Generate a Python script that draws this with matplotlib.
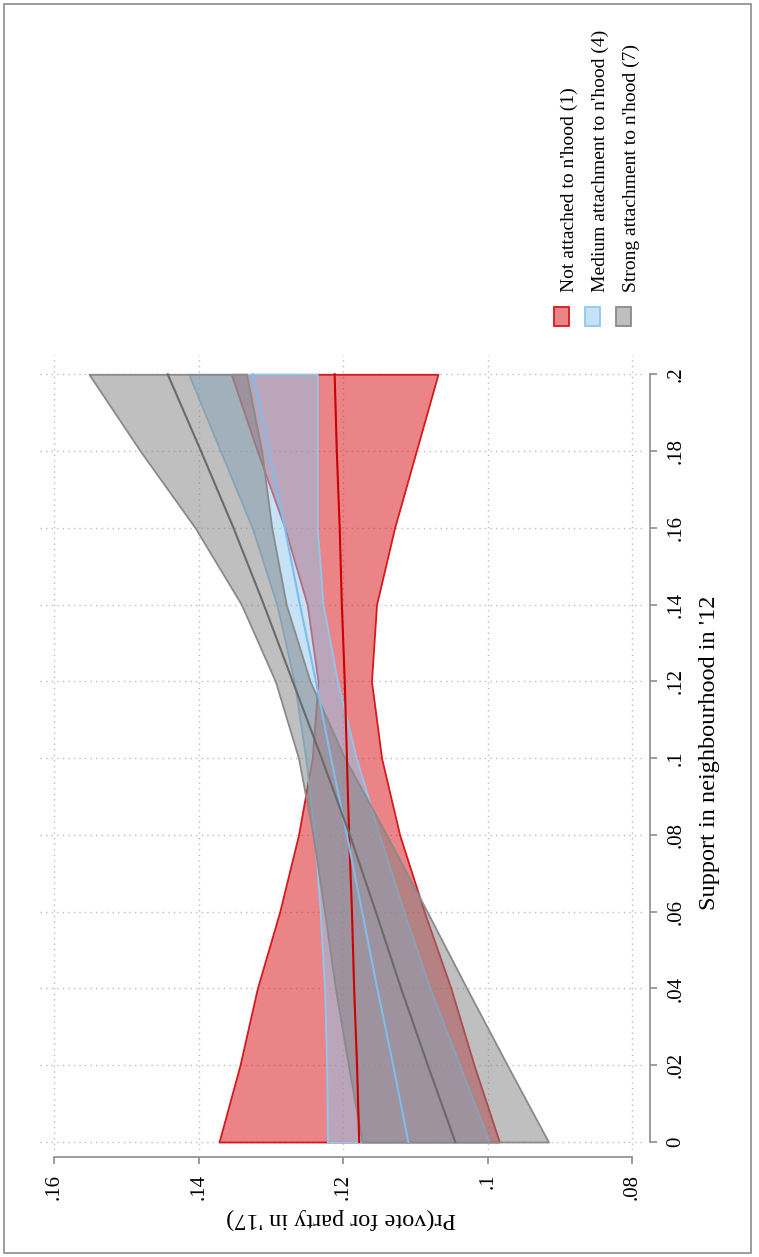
import matplotlib
matplotlib.use("Agg")
import matplotlib.pyplot as plt
from matplotlib.patches import Rectangle

# ---------------- data ----------------
support = [0.00, 0.02, 0.04, 0.06, 0.08, 0.10, 0.12, 0.14, 0.16, 0.18, 0.20]

red_mid = [0.1178, 0.1181, 0.1185, 0.1188, 0.1192, 0.1195, 0.1198, 0.1202, 0.1205, 0.1209, 0.1212]
red_lo  = [0.0984, 0.1019, 0.1051, 0.1088, 0.1122, 0.1147, 0.1161, 0.1154, 0.1129, 0.1099, 0.1069]
red_hi  = [0.1372, 0.1343, 0.1319, 0.1288, 0.1262, 0.1243, 0.1235, 0.1250, 0.1281, 0.1319, 0.1355]

blue_mid = [0.1110, 0.1131, 0.1153, 0.1174, 0.1195, 0.1217, 0.1238, 0.1260, 0.1281, 0.1303, 0.1325]
blue_lo  = [0.0998, 0.1039, 0.1080, 0.1116, 0.1150, 0.1182, 0.1208, 0.1228, 0.1236, 0.1236, 0.1236]
blue_hi  = [0.1222, 0.1223, 0.1226, 0.1232, 0.1240, 0.1252, 0.1268, 0.1292, 0.1326, 0.1370, 0.1414]

gray_mid = [0.1045, 0.1083, 0.1120, 0.1155, 0.1191, 0.1230, 0.1270, 0.1310, 0.1352, 0.1397, 0.1443]
gray_lo  = [0.0916, 0.0973, 0.1029, 0.1084, 0.1140, 0.1198, 0.1246, 0.1279, 0.1299, 0.1313, 0.1334]
gray_hi  = [0.1174, 0.1193, 0.1211, 0.1226, 0.1242, 0.1262, 0.1294, 0.1341, 0.1405, 0.1481, 0.1552]

series_labels = ["Not attached to n'hood (1)",
                 "Medium attachment to n'hood (4)",
                 "Strong attachment to n'hood (7)"]

pr_ticks = [0.16, 0.14, 0.12, 0.10, 0.08]
pr_ticklabels = [".16", ".14", ".12", ".1", ".08"]
sup_ticks = [0, 0.02, 0.04, 0.06, 0.08, 0.10, 0.12, 0.14, 0.16, 0.18, 0.20]
sup_ticklabels = ["0", ".02", ".04", ".06", ".08", ".1", ".12", ".14", ".16", ".18", ".2"]

# ---------------- style ----------------
plt.rcParams['font.family'] = ['Liberation Serif', 'DejaVu Serif']

fill_cols = [(0.86, 0.12, 0.14, 0.55), (0.55, 0.78, 0.94, 0.50), (0.50, 0.50, 0.50, 0.50)]
edge_cols = ['#D7191C', '#8EC8EE', '#8A8A8A']
line_cols = ['#CC0000', '#7FBDEA', '#6A6A6A']

W, H = 759, 1257
fig = plt.figure(figsize=(W / 100, H / 100), dpi=100)

def fx(x):
    return x / W

def fy(y):
    return 1 - y / H

# frame around the whole figure
fig.patches.append(Rectangle((fx(4), fy(1253)), fx(751) - fx(4), fy(4) - fy(1253),
                             transform=fig.transFigure, fill=False,
                             edgecolor='#8C8C8C', lw=1.2))

ax_l, ax_r, ax_t, ax_b = 40, 643, 355, 1150
ax = fig.add_axes([fx(ax_l), fy(ax_b), (ax_r - ax_l) / W, (ax_b - ax_t) / H])

px_per_pr = 7225.0
px_per_s = 3840.0
ax.set_xlim(0.16 + (54.3 - ax_l) / px_per_pr, 0.16 - (ax_r - 54.3) / px_per_pr)
ax.set_ylim(-(ax_b - 1142) / px_per_s, 0.2 + (374.3 - ax_t) / px_per_s)

los = [red_lo, blue_lo, gray_lo]
his = [red_hi, blue_hi, gray_hi]
mids = [red_mid, blue_mid, gray_mid]

for lo, hi, fc, ec in zip(los, his, fill_cols, edge_cols):
    ax.fill_betweenx(support, lo, hi, facecolor=fc, edgecolor=ec, lw=1.3, zorder=2)
for mid, lc in zip(mids, line_cols):
    ax.plot(mid, support, color=lc, lw=1.5, zorder=3)

# grid
ax.set_xticks(pr_ticks)
ax.set_yticks(sup_ticks)
ax.grid(True, color='#BDBDBD', linestyle=(0, (1, 3)), lw=1.0, zorder=0)
ax.set_axisbelow(True)

for s in ['left', 'top']:
    ax.spines[s].set_visible(False)
for s in ['bottom', 'right']:
    ax.spines[s].set_color('#8C8C8C')
    ax.spines[s].set_linewidth(1.2)
    ax.spines[s].set_position(('outward', 5))
ax.spines['bottom'].set_bounds(0.08, 0.16)
ax.spines['right'].set_bounds(0, 0.2)

ax.yaxis.tick_right()
ax.yaxis.set_label_position('right')
ax.tick_params(axis='both', colors='#8C8C8C', length=5, width=1.2, labelcolor='black',
               labelsize=15)
ax.tick_params(axis='x', pad=7)
ax.tick_params(axis='y', pad=7)
ax.set_xticklabels(pr_ticklabels, rotation=90)
ax.set_yticklabels(sup_ticklabels, rotation=90, va='center')

ax.set_xlabel("Pr(vote for party in '17)", rotation=180, fontsize=17.5, labelpad=6)
ax.set_ylabel("Support in neighbourhood in '12", rotation=90, fontsize=17.5, labelpad=10)

# legend (rotated, drawn by hand)
key_x = [554, 585, 616]
for kx, fc, ec, lab in zip(key_x, fill_cols, edge_cols, series_labels):
    fig.patches.append(Rectangle((fx(kx), fy(326)), 15 / W, 19 / H,
                                 transform=fig.transFigure, facecolor=fc,
                                 edgecolor=ec, lw=1.3))
    fig.text(fx(kx + 15), fy(292), lab, rotation=90, ha='center', va='bottom',
             fontsize=14)

fig.savefig('out.png', dpi=100)
